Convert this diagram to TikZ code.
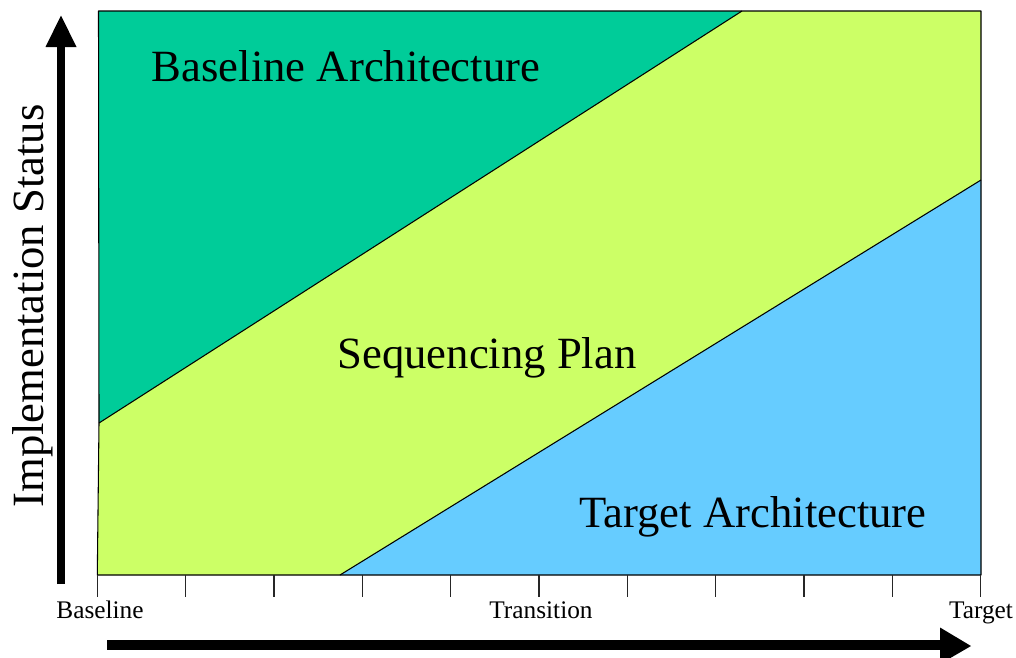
\documentclass[tikz,border=0pt]{standalone}
\usepackage{fontspec}
\setmainfont{Liberation Serif}
\definecolor{baseteal}{RGB}{0,204,153}
\definecolor{seqgreen}{RGB}{204,255,102}
\definecolor{tgtblue}{RGB}{102,204,255}
\begin{document}
\begin{tikzpicture}[x=0.75pt,y=-0.75pt,
  region/.style={draw=black,line width=0.8pt,line join=round},
  bigtext/.style={font=\fontsize{33.5}{40}\selectfont,inner sep=0pt,anchor=base},
  ticklabel/.style={font=\fontsize{19}{23}\selectfont,inner sep=0pt,anchor=base},
  tickmark/.style={draw=black!85,line width=1pt},
  axisshaft/.style={line width=#1,draw=black},
  axishead/.style={fill=black}]
\useasboundingbox (0,0) rectangle (1016,657);
% corner coordinates
\coordinate (TL) at (98.5,11);
\coordinate (TR) at (981,11);
\coordinate (BR) at (981,575);
\coordinate (BL) at (97.3,575);
\coordinate (G1) at (99,423);
\coordinate (G2) at (742,11);
\coordinate (B1) at (981,180);
\coordinate (B2) at (340,575);
% regions
\fill[baseteal] (TL) -- (G2) -- (G1) -- cycle;
\fill[seqgreen] (G1) -- (G2) -- (TR) -- (B1) -- (B2) -- (BL) -- cycle;
\fill[tgtblue] (B2) -- (B1) -- (BR) -- cycle;
\draw[region] (G1) -- (G2);
\draw[region] (B2) -- (B1);
\draw[region] (TL) -- (TR) -- (BR) -- (BL) -- (G1) -- cycle;
% ticks
\foreach \k in {0,...,10} {
  \coordinate (t\k) at ({97.3+\k*88.34},575);
  \coordinate (u\k) at ({97.3+\k*88.34},597);
  \draw[tickmark] (t\k) -- (u\k);
}
\node[ticklabel] (lbase) at (100,618) {Baseline};
\node[ticklabel] (ltrans) at (541,618) {Transition};
\node[ticklabel] (ltarget) at (981,618) {Target};
% region labels
\node[bigtext] (nbase) at (346,81) {Baseline Architecture};
\node[bigtext] (nseq) at (487,368) {Sequencing Plan};
\node[bigtext] (ntgt) at (753,527) {Target Architecture};
% y axis
\coordinate (ya) at (61,584);
\coordinate (yb) at (61,45);
\draw[axisshaft=6pt] (ya) -- (yb);
\fill[axishead] (45.5,47) -- (76.5,47) -- (61,15.5) -- cycle;
\node[bigtext,rotate=90] (ylab) at (43,306) {Implementation Status};
% x axis
\coordinate (xa) at (107,645);
\coordinate (xb) at (942,645);
\draw[axisshaft=7.5pt] (xa) -- (xb);
\fill[axishead] (940,627.5) -- (940,664) -- (971,646) -- cycle;
\end{tikzpicture}
\end{document}
